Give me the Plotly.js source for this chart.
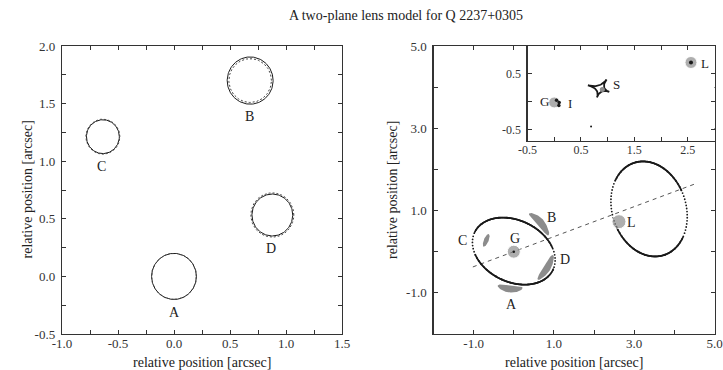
<!DOCTYPE html>
<html><head><meta charset="utf-8">
<script src="https://cdn.plot.ly/plotly-3.0.1.min.js"></script>
<style>body{margin:0;background:#fff}</style>
</head><body>
<div id="chart" style="width:723px;height:370px"></div>
<script>
// ---------- data ----------
const titleText = 'A two-plane lens model for Q 2237+0305';
const axisTitleText = 'relative position [arcsec]';

// left panel: observed images (solid) and model images (dashed)
const imgNames = ['A', 'B', 'C', 'D'];
const imgX = [0.0, 0.68, -0.635, 0.878];
const imgY = [0.0, 1.70, 1.213, 0.533];
const solidR = [0.200, 0.205, 0.147, 0.182];
const dashR = [0.200, 0.190, 0.152, 0.192];
const imgLabelX = [0.0, 0.676, -0.645, 0.87];
const imgLabelY = [-0.31, 1.39, 0.95, 0.24];

// left axes ticks
const leftXTicks = [-1.0, -0.75, -0.5, -0.25, 0.0, 0.25, 0.5, 0.75, 1.0, 1.25, 1.5];
const leftXText = ['-1.0', '', '-0.5', '', '0.0', '', '0.5', '', '1.0', '', '1.5'];
const leftYTicks = [-0.5, -0.25, 0.0, 0.25, 0.5, 0.75, 1.0, 1.25, 1.5, 1.75, 2.0];
const leftYText = ['-0.5', '', '0.0', '', '0.5', '', '1.0', '', '1.5', '', '2.0'];

// right panel: critical curves (centre, semi-axes, angle in degrees)
const critCx = [0.0, 3.37];
const critCy = [0.015, 1.04];
const critA = [1.077, 1.181];
const critB = [0.752, 0.918];
const critAng = [-24, -70.6];

// lens axis (dashed)
const lensAxisX = [-1.02, 4.52];
const lensAxisY = [-0.37, 1.65];

// extended image arcs (grey crescents): centre line and half thickness
const arcAX = [-0.40, -0.2, 0.0, 0.22];
const arcAY = [-0.82, -0.89, -0.91, -0.88];
const arcBX = [0.38, 0.65, 0.87];
const arcBY = [0.93, 0.74, 0.40];
const arcCX = [-0.62, -0.69, -0.75];
const arcCY = [0.43, 0.27, 0.12];
const arcDX = [0.98, 0.83, 0.60];
const arcDY = [-0.08, -0.40, -0.68];
const arcHalfW = [0.085, 0.085, 0.06, 0.085];

// galaxies G and L in main panel
const galX = [0.0, 2.62];
const galY = [0.0, 0.73];
const mainLabels = ['A', 'B', 'C', 'D', 'G', 'L'];
const mainLabelX = [-0.06, 0.94, -1.27, 1.28, 0.04, 2.94];
const mainLabelY = [-1.29, 0.84, 0.27, -0.19, 0.32, 0.70];

// right axes ticks
const rightTicks = [-2, -1, 0, 1, 2, 3, 4, 5];
const rightText = ['', '-1.0', '', '1.0', '', '3.0', '', '5.0'];

// inset: source plane
const insetGalX = [0.0, 2.56];
const insetGalY = [-0.01, 0.705];
const insetImgX = [0.044, 0.093, 0.087];
const insetImgY = [0.03, -0.01, -0.064];
const insetLDotX = [2.56];
const insetLDotY = [0.705];
const causticCuspX = [0.63, 0.98, 1.03, 0.80];
const causticCuspY = [0.295, 0.40, 0.18, 0.08];
const causticCenX = 0.86;
const causticCenY = 0.24;
const sourceX = [0.90];
const sourceY = [0.22];
const strayX = [0.69];
const strayY = [-0.44];
const insetLabels = ['G', 'I', 'S', 'L'];
const insetLabelX = [-0.18, 0.29, 1.16, 2.83];
const insetLabelY = [0.0, -0.03, 0.32, 0.69];
const insetXTicks = [-0.5, 0.0, 0.5, 1.0, 1.5, 2.0, 2.5];
const insetXText = ['-0.5', '', '0.5', '', '1.5', '', '2.5'];
const insetYTicks = [-0.5, 0.0, 0.5];
const insetYText = ['-0.5', '', '0.5'];

// ---------- helpers ----------
function circlePts(cx, cy, r) {
  const xs = [], ys = [];
  for (let i = 0; i <= 180; i++) {
    const t = 2 * Math.PI * i / 180;
    xs.push(cx + r * Math.cos(t)); ys.push(cy + r * Math.sin(t));
  }
  return [xs, ys];
}
// rotated ellipse: dense where the curve is flat, dotted (y-grid crossings) where it is steep
function gridEllipse(cx, cy, a, b, angDeg) {
  const th = angDeg * Math.PI / 180, c = Math.cos(th), s = Math.sin(th);
  const xs = [], ys = [];
  const dx = 0.012, dy = 0.075;
  let px = null, py = null;
  const N = 12000;
  for (let i = 0; i <= N; i++) {
    const t = 2 * Math.PI * i / N;
    const u = a * Math.cos(t), v = b * Math.sin(t);
    const du = -a * Math.sin(t), dv = b * Math.cos(t);
    const x = cx + u * c - v * s, y = cy + u * s + v * c;
    const tx = du * c - dv * s, ty = du * s + dv * c;
    const steep = Math.abs(ty) > 2.2 * Math.abs(tx);
    const gx = Math.floor(x / dx), gy = Math.floor(y / dy);
    if (px === null) { xs.push(x); ys.push(y); }
    else if (steep ? gy !== py : (gx !== px || gy !== py)) { xs.push(x); ys.push(y); }
    px = gx; py = gy;
  }
  return [xs, ys];
}
function causticPts() {
  const xs = [], ys = [];
  const n = causticCuspX.length;
  for (let k = 0; k < n; k++) {
    const x0 = causticCuspX[k], y0 = causticCuspY[k];
    const x1 = causticCuspX[(k + 1) % n], y1 = causticCuspY[(k + 1) % n];
    for (let i = 0; i <= 20; i++) {
      const t = i / 20, m = 1 - t;
      xs.push(m * m * x0 + 2 * m * t * causticCenX + t * t * x1);
      ys.push(m * m * y0 + 2 * m * t * causticCenY + t * t * y1);
    }
  }
  return [xs, ys];
}
function crescent(xs, ys, hw) {
  const n = xs.length, P = [];
  for (let i = 0; i < n - 1; i++) {
    const p0 = i > 0 ? [xs[i - 1], ys[i - 1]] : [2 * xs[0] - xs[1], 2 * ys[0] - ys[1]];
    const p1 = [xs[i], ys[i]], p2 = [xs[i + 1], ys[i + 1]];
    const p3 = i + 2 < n ? [xs[i + 2], ys[i + 2]] : [2 * xs[n - 1] - xs[n - 2], 2 * ys[n - 1] - ys[n - 2]];
    for (let k = 0; k < 20; k++) {
      const t = k / 20, t2 = t * t, t3 = t2 * t;
      const f = j => 0.5 * (2 * p1[j] + (-p0[j] + p2[j]) * t + (2 * p0[j] - 5 * p1[j] + 4 * p2[j] - p3[j]) * t2 + (-p0[j] + 3 * p1[j] - 3 * p2[j] + p3[j]) * t3);
      P.push([f(0), f(1)]);
    }
  }
  P.push([xs[n - 1], ys[n - 1]]);
  const L = [0];
  for (let i = 1; i < P.length; i++) L.push(L[i - 1] + Math.hypot(P[i][0] - P[i - 1][0], P[i][1] - P[i - 1][1]));
  const tot = L[L.length - 1];
  const up = [], lo = [];
  for (let i = 0; i < P.length; i++) {
    const a = P[Math.max(0, i - 1)], b = P[Math.min(P.length - 1, i + 1)];
    let tx = b[0] - a[0], ty = b[1] - a[1]; const d = Math.hypot(tx, ty); tx /= d; ty /= d;
    const w = hw * Math.pow(Math.sin(Math.PI * L[i] / tot), 0.45);
    up.push([P[i][0] - ty * w, P[i][1] + tx * w]);
    lo.push([P[i][0] + ty * w, P[i][1] - tx * w]);
  }
  const poly = up.concat(lo.reverse());
  poly.push(poly[0]);
  return [poly.map(p => p[0]), poly.map(p => p[1])];
}

const INK = '#1a1a1a', GREY = '#8c8c8c', AXC = '#333';
const FONT = 'Liberation Serif, Times New Roman, serif';
const traces = [];

// left panel circles
for (let i = 0; i < imgNames.length; i++) {
  const [sx, sy] = circlePts(imgX[i], imgY[i], solidR[i]);
  traces.push({x: sx, y: sy, mode: 'lines', line: {color: INK, width: 1}, xaxis: 'x', yaxis: 'y', hoverinfo: 'skip'});
  const [dx, dy] = circlePts(imgX[i], imgY[i], dashR[i]);
  traces.push({x: dx, y: dy, mode: 'lines', line: {color: '#444', width: 1, dash: '2px,2px'}, xaxis: 'x', yaxis: 'y', hoverinfo: 'skip'});
}

// right main: lens axis first
traces.push({x: lensAxisX, y: lensAxisY, mode: 'lines', line: {color: '#555', width: 1, dash: '4px,4px'}, xaxis: 'x2', yaxis: 'y2'});
// grey crescents
[[arcAX, arcAY], [arcBX, arcBY], [arcCX, arcCY], [arcDX, arcDY]].forEach(([ax, ay], i) => {
  const [px, py] = crescent(ax, ay, arcHalfW[i]);
  traces.push({x: px, y: py, mode: 'lines', fill: 'toself', fillcolor: GREY, line: {width: 0, color: GREY}, xaxis: 'x2', yaxis: 'y2'});
});
// critical curves
for (let i = 0; i < critCx.length; i++) {
  const [ex, ey] = gridEllipse(critCx[i], critCy[i], critA[i], critB[i], critAng[i]);
  traces.push({x: ex, y: ey, mode: 'markers', marker: {color: INK, size: 1.8}, xaxis: 'x2', yaxis: 'y2', hoverinfo: 'skip'});
}
// galaxies
traces.push({x: galX, y: galY, mode: 'markers', marker: {color: GREY, size: [13, 14]}, xaxis: 'x2', yaxis: 'y2'});
traces.push({x: [galX[0]], y: [galY[0]], mode: 'markers', marker: {color: INK, size: 2.5}, xaxis: 'x2', yaxis: 'y2'});

// inset
const [cxs, cys] = causticPts();
traces.push({x: cxs, y: cys, mode: 'lines', line: {color: INK, width: 1.8}, xaxis: 'x3', yaxis: 'y3'});
traces.push({x: sourceX, y: sourceY, mode: 'markers', marker: {color: GREY, size: 5}, xaxis: 'x3', yaxis: 'y3'});
traces.push({x: insetGalX, y: insetGalY, mode: 'markers', marker: {color: GREY, size: [11, 12]}, xaxis: 'x3', yaxis: 'y3'});
traces.push({x: insetImgX, y: insetImgY, mode: 'markers', marker: {color: INK, size: 3.5}, xaxis: 'x3', yaxis: 'y3'});
traces.push({x: insetLDotX, y: insetLDotY, mode: 'markers', marker: {color: INK, size: 4}, xaxis: 'x3', yaxis: 'y3'});
traces.push({x: strayX, y: strayY, mode: 'markers', marker: {color: INK, size: 2}, xaxis: 'x3', yaxis: 'y3'});

// ---------- layout ----------
const W = 723, H = 370;
const fx = p => p / W, fy = p => 1 - p / H;
function ax(domain, range, tv, tt, extra) {
  return Object.assign({
    domain: domain, range: range, tickmode: 'array', tickvals: tv, ticktext: tt,
    ticks: 'inside', ticklen: 4, tickcolor: AXC, tickwidth: 1,
    showline: true, linecolor: AXC, linewidth: 1.2, mirror: 'ticks',
    showgrid: false, zeroline: false, fixedrange: true,
    tickfont: {family: FONT, size: 13, color: '#333'}
  }, extra || {});
}
const annotations = [];
function lab(text, x, y, xr, yr, size) {
  annotations.push({text: text, x: x, y: y, xref: xr, yref: yr, showarrow: false,
    font: {family: FONT, size: size || 14, color: '#222'}, xanchor: 'center', yanchor: 'middle'});
}
imgNames.forEach((n, i) => lab(n, imgLabelX[i], imgLabelY[i], 'x', 'y'));
mainLabels.forEach((n, i) => lab(n, mainLabelX[i], mainLabelY[i], 'x2', 'y2'));
insetLabels.forEach((n, i) => lab(n, insetLabelX[i], insetLabelY[i], 'x3', 'y3', 13));
// axis titles
lab(axisTitleText, fx(202), fy(362), 'paper', 'paper', 14);
lab(axisTitleText, fx(574), fy(362), 'paper', 'paper', 14);
annotations.push({text: axisTitleText, x: fx(17), y: fy(190), xref: 'paper', yref: 'paper', showarrow: false, textangle: -90,
  font: {family: FONT, size: 14, color: '#222'}});
annotations.push({text: axisTitleText, x: fx(392), y: fy(190), xref: 'paper', yref: 'paper', showarrow: false, textangle: -90,
  font: {family: FONT, size: 14, color: '#222'}});

const XS = {ticklabelstandoff: -3}, YS = {ticklabelstandoff: 3};
const layout = {
  width: W, height: H, margin: {l: 0, r: 0, t: 0, b: 0},
  paper_bgcolor: '#fff', plot_bgcolor: '#fff', showlegend: false,
  title: {text: titleText, x: fx(406), xanchor: 'center', y: fy(15), yanchor: 'middle',
    font: {family: FONT, size: 14, color: '#222'}},
  xaxis: ax([fx(62), fx(342)], [-1.0, 1.5], leftXTicks, leftXText, Object.assign({anchor: 'y'}, XS)),
  yaxis: ax([fy(334), fy(46)], [-0.5, 2.0], leftYTicks, leftYText, Object.assign({anchor: 'x'}, YS)),
  xaxis2: ax([fx(433.5), fx(714.5)], [-2, 5], rightTicks, rightText, Object.assign({anchor: 'y2'}, XS)),
  yaxis2: ax([fy(334), fy(46)], [-2, 5], rightTicks, rightText, Object.assign({anchor: 'x2'}, YS)),
  xaxis3: ax([fx(527.5), fx(714.5)], [-0.5, 3.0], insetXTicks, insetXText, Object.assign({anchor: 'y3', tickfont: {family: FONT, size: 12, color: '#333'}}, XS)),
  yaxis3: ax([fy(141), fy(46)], [-0.7, 1.0], insetYTicks, insetYText, Object.assign({anchor: 'x3', tickfont: {family: FONT, size: 12, color: '#333'}}, YS)),
  annotations: annotations
};
Plotly.newPlot('chart', traces, layout, {displayModeBar: false, staticPlot: true});
</script>
</body></html>
